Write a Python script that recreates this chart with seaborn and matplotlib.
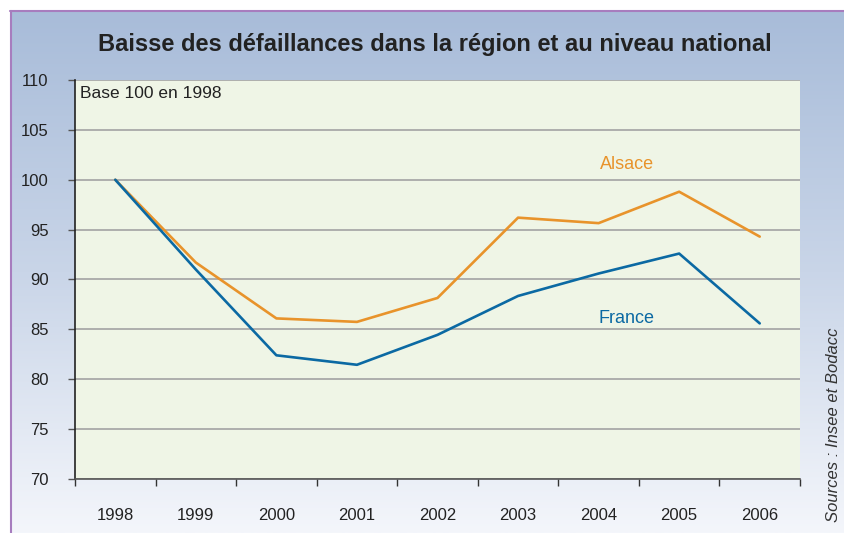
import numpy as np
import pandas as pd
import matplotlib
matplotlib.use("Agg")
import matplotlib.pyplot as plt
import seaborn as sns
from matplotlib.colors import LinearSegmentedColormap

years = ["1998", "1999", "2000", "2001", "2002", "2003", "2004", "2005", "2006"]
alsace = [100, 91.7, 86.1, 85.75, 88.15, 96.2, 95.65, 98.8, 94.3]
france = [100, 91.0, 82.4, 81.45, 84.45, 88.35, 90.6, 92.6, 85.6]
series_names = ["Alsace", "France"]
colors = {"Alsace": "#E8932B", "France": "#0B69A3"}
yticks = [70, 75, 80, 85, 90, 95, 100, 105, 110]

df = pd.DataFrame({
    "year": years * 2,
    "value": alsace + france,
    "serie": ["Alsace"] * len(years) + ["France"] * len(years),
})

sns.set_theme(style="white")
plt.rcParams['font.family'] = ['Liberation Sans', 'DejaVu Sans']

fig = plt.figure(figsize=(8.44, 5.33), dpi=100)
fig.patch.set_facecolor("white")

# gradient background
bg = fig.add_axes([10/844, 0, 1 - 10/844, 1 - 11/533])
grad = np.linspace(0, 1, 256).reshape(-1, 1)
cmap = LinearSegmentedColormap.from_list("bg", ["#A8BCD9", "#C9D5E8", "#F4F6FB"])
bg.imshow(grad, aspect="auto", cmap=cmap, extent=[0, 1, 0, 1], origin="upper")
bg.set_axis_off()
# purple border lines
fig.add_artist(plt.Line2D([10.5/844, 10.5/844], [0, 1 - 11/533], color="#A77DBE", lw=1.5, transform=fig.transFigure))
fig.add_artist(plt.Line2D([10/844, 1], [1 - 11/533, 1 - 11/533], color="#A77DBE", lw=1.5, transform=fig.transFigure))

ax = fig.add_axes([75/844, 1 - 479/533, 725/844, 399/533])
ax.set_facecolor("#EFF5E6")
sns.lineplot(data=df, x="year", y="value", hue="serie", palette=colors, ax=ax,
             linewidth=1.9, legend=False, sort=False)

ax.set_xlim(-0.5, len(years) - 0.5)
ax.set_ylim(70, 110)
ax.set_yticks(yticks)
ax.set_yticklabels([str(v) for v in yticks])
ax.set_xticks(range(len(years)))
ax.set_xticklabels(years)
ax.set_xticks(np.arange(-0.5, len(years), 1.0), minor=True)
ax.tick_params(axis="x", which="major", length=0, pad=21, labelsize=12, colors="#222222")
ax.tick_params(axis="x", which="minor", length=5, width=1, color="#333333", direction="out", bottom=True)
ax.tick_params(axis="y", which="major", length=5, width=1, color="#555555", direction="out", left=True, pad=14, labelsize=12, colors="#222222")
ax.grid(axis="y", color="#A3A3A3", lw=1.2)
ax.grid(axis="x", visible=False)
ax.set_axisbelow(True)
ax.set_xlabel("")
ax.set_ylabel("")
for s in ["top", "right"]:
    ax.spines[s].set_visible(False)
ax.spines["left"].set_color("#222222")
ax.spines["left"].set_linewidth(1.2)
ax.spines["bottom"].set_color("#555555")
ax.spines["bottom"].set_linewidth(1.2)

ax.text(0.007, 0.985, "Base 100 en 1998", transform=ax.transAxes, ha="left", va="top",
        fontsize=12.5, color="#222222")
ax.text(6.35, 101.5, "Alsace", color=colors["Alsace"], fontsize=13, ha="center", va="center")
ax.text(6.35, 86.1, "France", color=colors["France"], fontsize=13, ha="center", va="center")

fig.text(435/844, 1 - 44/533, "Baisse des défaillances dans la région et au niveau national",
         ha="center", va="center", fontsize=17, fontweight="bold", color="#222222")
fig.text(834/844, 1 - 522/533, "Sources : Insee et Bodacc", rotation=90, ha="center", va="bottom",
         fontsize=12, style="italic", color="#333333")

fig.savefig("out.png", dpi=100)
